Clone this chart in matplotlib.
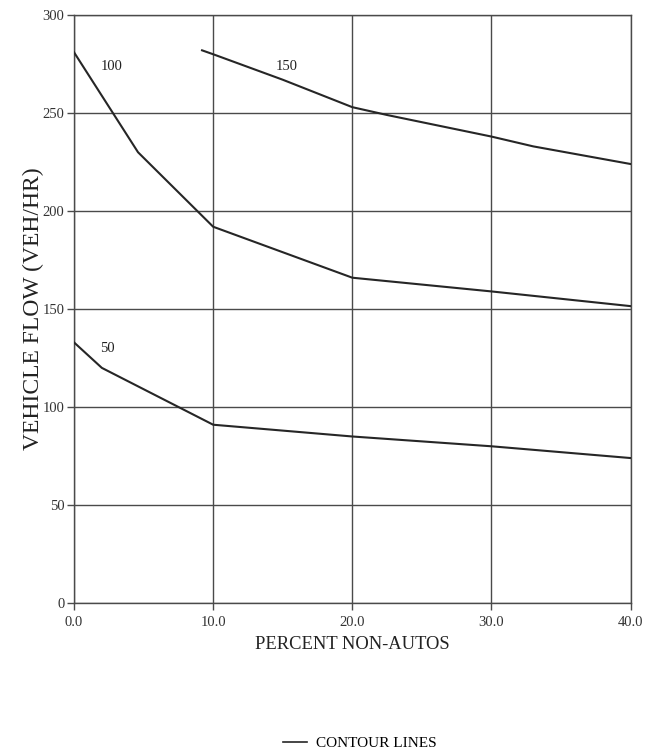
import matplotlib
matplotlib.use("Agg")
import matplotlib.pyplot as plt
from matplotlib.lines import Line2D

# contour lines: percent non-autos vs vehicle flow (veh/hr)
x_150 = [9.2, 10.0, 15.0, 20.0, 22.5, 30.0, 33.0, 40.0]
y_150 = [282, 280, 267, 253, 249, 238, 233, 224]

x_100 = [0.0, 4.6, 10.0, 20.0, 30.0, 40.0]
y_100 = [281, 230, 192, 166, 159, 151.5]

x_50 = [0.0, 2.0, 10.0, 20.0, 30.0, 40.0]
y_50 = [133, 120, 91, 85, 80, 74]

contour_labels = ["150", "100", "50"]
label_pos = [(15.3, 274), (2.7, 274), (2.4, 130)]

x_ticks = [0, 10, 20, 30, 40]
x_ticklabels = ["0.0", "10.0", "20.0", "30.0", "40.0"]
y_ticks = [0, 50, 100, 150, 200, 250, 300]

plt.rcParams['font.family'] = ['Liberation Serif', 'DejaVu Serif']

fig = plt.figure(figsize=(6.51, 7.52), dpi=100)
ax = fig.add_axes([0.1137, 0.198, 0.855, 0.782])

grid_col = '#4a4a4a'
line_col = '#262626'

for xs, ys in [(x_150, y_150), (x_100, y_100), (x_50, y_50)]:
    ax.plot(xs, ys, color=line_col, lw=1.5, zorder=3)

for txt, (tx, ty) in zip(contour_labels, label_pos):
    ax.text(tx, ty, txt, fontsize=10.5, color='#222222', ha='center', va='center')

ax.set_xlim(0, 40)
ax.set_ylim(0, 300)
ax.set_xticks(x_ticks)
ax.set_xticklabels(x_ticklabels)
ax.set_yticks(y_ticks)
ax.grid(True, color=grid_col, lw=1.0)
ax.set_axisbelow(True)
for s in ax.spines.values():
    s.set_color(grid_col)
    s.set_linewidth(1.0)
ax.tick_params(direction='out', length=5, width=1.0, color=grid_col,
               labelsize=10.5, labelcolor='#333333')
ax.tick_params(axis='x', pad=4)
ax.tick_params(axis='y', pad=2)

ax.set_xlabel("PERCENT NON-AUTOS", fontsize=13.3, color='#222222', labelpad=5)
ax.set_ylabel("VEHICLE FLOW (VEH/HR)", fontsize=17, color='#222222', labelpad=-1)

handle = Line2D([], [], color=line_col, lw=1.2)
fig.legend([handle], ["CONTOUR LINES"], loc='center', bbox_to_anchor=(360 / 651, 1 - 743 / 752),
           frameon=False, fontsize=11, handlelength=1.6, handletextpad=0.6,
           borderpad=0, borderaxespad=0)

fig.savefig("out.png", dpi=100)
